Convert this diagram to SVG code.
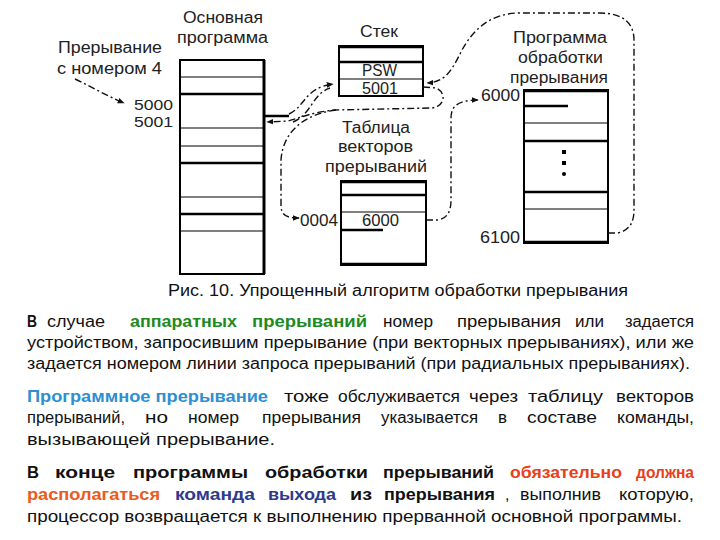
<svg xmlns="http://www.w3.org/2000/svg" width="720" height="540" viewBox="0 0 720 540">
<defs>
<marker id="ah" viewBox="0 0 10 10" refX="9" refY="5" markerWidth="7" markerHeight="7" orient="auto-start-reverse" markerUnits="userSpaceOnUse">
<path d="M0,1 L10,5 L0,9 Z" fill="#111"/>
</marker>
</defs>
<style>
.lbl{font-family:"Liberation Sans",Arial,sans-serif;font-size:16px;fill:#222}
.sm{font-size:15px}
.box{fill:#fff;stroke:#000;stroke-width:2}
.thk{stroke:#000;stroke-width:2.5}
.thn{stroke:#000;stroke-width:1.2}
.dash{fill:none;stroke:#111;stroke-width:1.4;stroke-dasharray:7 3 2 3}
.body{font-family:"Liberation Sans",Arial,sans-serif;font-size:16px;fill:#111}
.b{font-weight:bold}
.g{fill:#1f8a1f}
.bl{fill:#2f8fd0}
.r{fill:#e8401a}
.o{fill:#ec5a1c}
.nv{fill:#2e3a8c}
</style>
<rect width="720" height="540" fill="#fff"/>

<g id="main-program">
<text class="lbl" x="183" y="23" textLength="80" lengthAdjust="spacingAndGlyphs">Основная</text>
<text class="lbl" x="177" y="43" textLength="91" lengthAdjust="spacingAndGlyphs">программа</text>
<rect class="box" x="180" y="60" width="84" height="214"/>
<line class="thn" x1="180" y1="77" x2="264" y2="77"/>
<line class="thk" x1="180" y1="94" x2="264" y2="94"/>
<line class="thn" x1="180" y1="128" x2="264" y2="128"/>
<line class="thn" x1="180" y1="146" x2="264" y2="146"/>
<line class="thk" x1="180" y1="163" x2="264" y2="163"/>
<line class="thn" x1="180" y1="197" x2="264" y2="197"/>
<line class="thk" x1="180" y1="214" x2="264" y2="214"/>
<line class="thn" x1="180" y1="231" x2="264" y2="231"/>
<line x1="264" y1="60" x2="264" y2="274" stroke="#000" stroke-width="3"/>
<text class="lbl sm" x="134" y="110" textLength="39" lengthAdjust="spacingAndGlyphs">5000</text>
<text class="lbl sm" x="134" y="127" textLength="39" lengthAdjust="spacingAndGlyphs">5001</text>
</g>

<g id="interrupt-label">
<text class="lbl" x="58" y="53" textLength="104" lengthAdjust="spacingAndGlyphs">Прерывание</text>
<text class="lbl" x="57" y="74" textLength="105" lengthAdjust="spacingAndGlyphs">с номером 4</text>
</g>

<g id="stack">
<text class="lbl" x="360" y="37" textLength="38" lengthAdjust="spacingAndGlyphs">Стек</text>
<rect class="box" x="339" y="46" width="84" height="50"/>
<line class="thk" x1="339" y1="47" x2="423" y2="47"/>
<line class="thk" x1="339" y1="62" x2="423" y2="62"/>
<line class="thn" x1="339" y1="79" x2="423" y2="79"/>
<text class="lbl" x="362" y="76" textLength="35" lengthAdjust="spacingAndGlyphs">PSW</text>
<text class="lbl" x="362" y="94" textLength="36" lengthAdjust="spacingAndGlyphs">5001</text>
</g>

<g id="vector-table">
<text class="lbl" x="342" y="133" textLength="68" lengthAdjust="spacingAndGlyphs">Таблица</text>
<text class="lbl" x="338" y="152" textLength="75" lengthAdjust="spacingAndGlyphs">векторов</text>
<text class="lbl" x="325" y="172" textLength="102" lengthAdjust="spacingAndGlyphs">прерываний</text>
<rect class="box" x="341" y="181" width="85" height="84"/>
<line class="thk" x1="341" y1="182" x2="426" y2="182"/>
<line class="thk" x1="341" y1="195" x2="426" y2="195"/>
<line class="thn" x1="341" y1="212" x2="426" y2="212"/>
<line class="thk" x1="341" y1="230" x2="383" y2="230"/>
<line class="thk" x1="341" y1="264" x2="426" y2="264"/>
<text class="lbl" x="300" y="226" textLength="38" lengthAdjust="spacingAndGlyphs">0004</text>
<text class="lbl" x="362" y="226" textLength="37" lengthAdjust="spacingAndGlyphs">6000</text>
</g>

<g id="handler">
<text class="lbl" x="513" y="43" textLength="94" lengthAdjust="spacingAndGlyphs">Программа</text>
<text class="lbl" x="518" y="63" textLength="85" lengthAdjust="spacingAndGlyphs">обработки</text>
<text class="lbl" x="510" y="83" textLength="98" lengthAdjust="spacingAndGlyphs">прерывания</text>
<rect class="box" x="524" y="90" width="84" height="153"/>
<line class="thk" x1="524" y1="91" x2="608" y2="91"/>
<line class="thk" x1="524" y1="106" x2="568" y2="106"/>
<line class="thn" x1="524" y1="123" x2="608" y2="123"/>
<line class="thk" x1="524" y1="141" x2="608" y2="141"/>
<line class="thk" x1="524" y1="192" x2="608" y2="192"/>
<line class="thn" x1="524" y1="209" x2="608" y2="209"/>
<line class="thk" x1="524" y1="242" x2="608" y2="242"/>
<rect x="562" y="150" width="4" height="4" fill="#000"/>
<rect x="562" y="161" width="4" height="4" fill="#000"/>
<circle cx="564" cy="174" r="2" fill="#000"/>
<text class="lbl" x="481" y="101" textLength="39" lengthAdjust="spacingAndGlyphs">6000</text>
<text class="lbl" x="480" y="243" textLength="40" lengthAdjust="spacingAndGlyphs">6100</text>
</g>

<g id="connectors">
<path class="dash" d="M75,79 C92,87 105,95 124,103" marker-end="url(#ah)"/>
<line x1="264" y1="116" x2="289" y2="116" stroke="#000" stroke-width="2.5"/>
<path class="dash" d="M289,114 C306,106 304,88 333,84" marker-end="url(#ah)"/>
<path class="dash" d="M293,122 C312,114 312,94 330,88"/>
<path class="dash" d="M423,87 L436,88 C446,92 446,106 432,108 L335,110 C312,112 300,118 288,121 L267,122" marker-end="url(#ah)"/>
<path class="dash" d="M336,110 C306,114 283,130 281,160 L281,205 C281,215 286,218 299,218" marker-end="url(#ah)"/>
<path class="dash" d="M426,220 L437,220 C447,219 451,212 451,200 L451,118 C451,106 458,100 478,100" marker-end="url(#ah)"/>
<path class="dash" d="M608,233 L618,233 C630,230 634,222 634,210 L634,40 C634,25 625,13 600,13 L520,13 C492,13 474,28 462,50 C452,70 446,82 427,83" marker-end="url(#ah)"/>
</g>

<g id="caption">
<text class="body" x="168" y="296" textLength="460" lengthAdjust="spacingAndGlyphs">Рис. 10. Упрощенный алгоритм обработки прерывания</text>
</g>

<g id="paragraph-1">
<text class="body b" x="27" y="327" textLength="10" lengthAdjust="spacingAndGlyphs">В</text>
<text class="body" x="47" y="327" textLength="58" lengthAdjust="spacingAndGlyphs">случае</text>
<text class="body b g" x="130" y="327" textLength="107" lengthAdjust="spacingAndGlyphs">аппаратных</text>
<text class="body b g" x="252" y="327" textLength="115" lengthAdjust="spacingAndGlyphs">прерываний</text>
<text class="body" x="383" y="327" textLength="50" lengthAdjust="spacingAndGlyphs">номер</text>
<text class="body" x="457" y="327" textLength="104" lengthAdjust="spacingAndGlyphs">прерывания</text>
<text class="body" x="575" y="327" textLength="29" lengthAdjust="spacingAndGlyphs">или</text>
<text class="body" x="625" y="327" textLength="69" lengthAdjust="spacingAndGlyphs">задается</text>
<text class="body" x="27" y="348" textLength="667" lengthAdjust="spacingAndGlyphs">устройством, запросившим прерывание (при векторных прерываниях), или же</text>
<text class="body" x="27" y="369" textLength="663" lengthAdjust="spacingAndGlyphs">задается номером линии запроса прерываний (при радиальных прерываниях).</text>
</g>

<g id="paragraph-2">
<text class="body b bl" x="27" y="402" textLength="241" lengthAdjust="spacingAndGlyphs">Программное прерывание</text>
<text class="body" x="284" y="402" textLength="45" lengthAdjust="spacingAndGlyphs">тоже</text>
<text class="body" x="338" y="402" textLength="122" lengthAdjust="spacingAndGlyphs">обслуживается</text>
<text class="body" x="469" y="402" textLength="49" lengthAdjust="spacingAndGlyphs">через</text>
<text class="body" x="528" y="402" textLength="75" lengthAdjust="spacingAndGlyphs">таблицу</text>
<text class="body" x="616" y="402" textLength="78" lengthAdjust="spacingAndGlyphs">векторов</text>
<text class="body" x="27" y="423" textLength="98" lengthAdjust="spacingAndGlyphs">прерываний,</text>
<text class="body" x="145" y="423" textLength="23" lengthAdjust="spacingAndGlyphs">но</text>
<text class="body" x="188" y="423" textLength="51" lengthAdjust="spacingAndGlyphs">номер</text>
<text class="body" x="262" y="423" textLength="99" lengthAdjust="spacingAndGlyphs">прерывания</text>
<text class="body" x="381" y="423" textLength="97" lengthAdjust="spacingAndGlyphs">указывается</text>
<text class="body" x="498" y="423" textLength="9" lengthAdjust="spacingAndGlyphs">в</text>
<text class="body" x="527" y="423" textLength="70" lengthAdjust="spacingAndGlyphs">составе</text>
<text class="body" x="617" y="423" textLength="77" lengthAdjust="spacingAndGlyphs">команды,</text>
<text class="body" x="27" y="445" textLength="248" lengthAdjust="spacingAndGlyphs">вызывающей прерывание.</text>
</g>

<g id="paragraph-3">
<text class="body b" x="27" y="478" textLength="12" lengthAdjust="spacingAndGlyphs">В</text>
<text class="body b" x="55" y="478" textLength="60" lengthAdjust="spacingAndGlyphs">конце</text>
<text class="body b" x="133" y="478" textLength="115" lengthAdjust="spacingAndGlyphs">программы</text>
<text class="body b" x="265" y="478" textLength="103" lengthAdjust="spacingAndGlyphs">обработки</text>
<text class="body b" x="383" y="478" textLength="111" lengthAdjust="spacingAndGlyphs">прерываний</text>
<text class="body b r" x="510" y="478" textLength="112" lengthAdjust="spacingAndGlyphs">обязательно</text>
<text class="body b r" x="636" y="478" textLength="58" lengthAdjust="spacingAndGlyphs">должна</text>
<text class="body b o" x="27" y="500" textLength="133" lengthAdjust="spacingAndGlyphs">располагаться</text>
<text class="body b nv" x="175" y="500" textLength="80" lengthAdjust="spacingAndGlyphs">команда</text>
<text class="body b nv" x="268" y="500" textLength="68" lengthAdjust="spacingAndGlyphs">выхода</text>
<text class="body b" x="350" y="500" textLength="22" lengthAdjust="spacingAndGlyphs">из</text>
<text class="body b" x="384" y="500" textLength="111" lengthAdjust="spacingAndGlyphs">прерывания</text>
<text class="body" x="505" y="500">,</text>
<text class="body" x="520" y="500" textLength="81" lengthAdjust="spacingAndGlyphs">выполнив</text>
<text class="body" x="619" y="500" textLength="75" lengthAdjust="spacingAndGlyphs">которую,</text>
<text class="body" x="27" y="522" textLength="655" lengthAdjust="spacingAndGlyphs">процессор возвращается к выполнению прерванной основной программы.</text>
</g>
</svg>
